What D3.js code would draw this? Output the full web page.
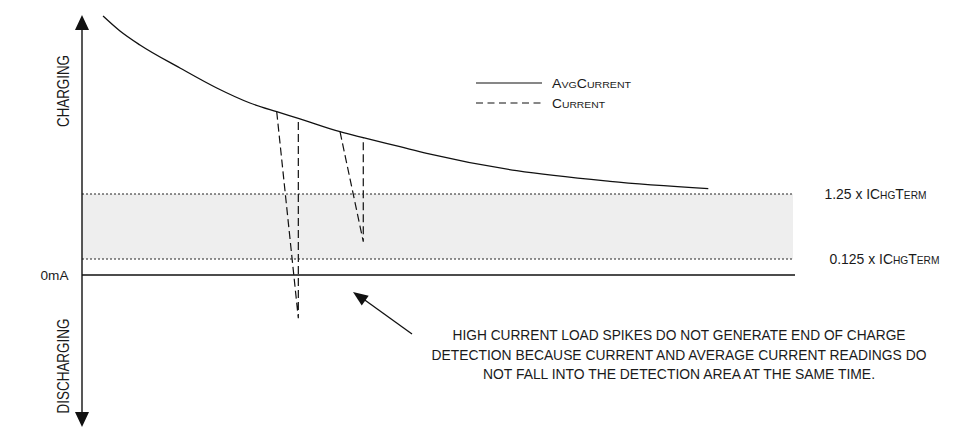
<!DOCTYPE html>
<html lang="en">
<head>
    <meta charset="UTF-8">
    <title>End of Charge Detection</title>
    <script src="https://d3js.org/d3.v7.min.js"></script>
    <style>
        body { margin: 0; background: #fff; font-family: "Liberation Sans", Arial, sans-serif; }
        svg { display: block; }
        text { fill: #1a1a1a; }
    </style>
</head>
<body>
    <svg width="972" height="434"></svg>
    <script>
        // time axis (arbitrary units) and current (arbitrary units, 0 = 0mA)
        const avgTime = [2.95, 5.33, 8.13, 13.74, 18.9, 23.56, 27.31, 30.34, 36.19, 39.45, 44.6, 48.35, 60.97, 74.05, 87.84];
        const avgCurrent = [259, 244, 230, 207, 187, 172, 163.3, 156.7, 143.3, 137.3, 128.3, 121.7, 104.3, 93.7, 86.3];

        // load spikes in the instantaneous current
        const spike1Time = [27.31, 30.34, 30.34];
        const spike1Current = [163.3, -43.3, 156.7];
        const spike2Time = [36.19, 39.45, 39.45];
        const spike2Current = [143.3, 33.3, 137.3];

        // detection band limits
        const bandValues = [81, 16];
        const bandLabels = [["1.25 x IC", "HG", "T", "ERM"], ["0.125 x IC", "HG", "T", "ERM"]];

        const legendLabels = [["A", "VG", "C", "URRENT"], ["C", "URRENT"]];
        const noteLines = [
            "HIGH CURRENT LOAD SPIKES DO NOT GENERATE END OF CHARGE",
            "DETECTION BECAUSE CURRENT AND AVERAGE CURRENT READINGS DO",
            "NOT FALL INTO THE DETECTION AREA AT THE SAME TIME."
        ];

        const svg = d3.select("svg");

        const x = d3.scaleLinear().domain([0, 100]).range([82, 795]);
        const y = d3.scaleLinear().domain([-150, 260]).range([425, 15]);

        // detection band
        svg.append("rect")
           .attr("x", x(0))
           .attr("y", y(bandValues[0]))
           .attr("width", x(100) - x(0) - 2)
           .attr("height", y(bandValues[1]) - y(bandValues[0]))
           .attr("fill", "#eeeeee");

        bandValues.forEach(v => {
            svg.append("line")
               .attr("x1", x(0)).attr("x2", x(100) - 2)
               .attr("y1", y(v)).attr("y2", y(v))
               .attr("stroke", "#222")
               .attr("stroke-width", 1)
               .attr("stroke-dasharray", "2,2");
        });

        // 0mA line
        svg.append("line")
           .attr("x1", x(0)).attr("x2", x(100))
           .attr("y1", y(0)).attr("y2", y(0))
           .attr("stroke", "#111")
           .attr("stroke-width", 1.3);

        // vertical axis with arrows at both ends
        const ax = x(0);
        svg.append("line")
           .attr("x1", ax).attr("x2", ax)
           .attr("y1", 28).attr("y2", 414)
           .attr("stroke", "#111")
           .attr("stroke-width", 1.4);
        svg.append("path")
           .attr("d", `M${ax},15 L${ax - 7},30 L${ax + 7},30 Z`)
           .attr("fill", "#111");
        svg.append("path")
           .attr("d", `M${ax},427 L${ax - 7},412 L${ax + 7},412 Z`)
           .attr("fill", "#111");

        svg.append("text")
           .attr("transform", "translate(68.5,91) rotate(-90)")
           .attr("text-anchor", "middle")
           .attr("font-size", 17)
           .attr("textLength", 72)
           .attr("lengthAdjust", "spacingAndGlyphs")
           .text("CHARGING");

        svg.append("text")
           .attr("transform", "translate(69,366) rotate(-90)")
           .attr("text-anchor", "middle")
           .attr("font-size", 17)
           .attr("textLength", 95)
           .attr("lengthAdjust", "spacingAndGlyphs")
           .text("DISCHARGING");

        svg.append("text")
           .attr("x", 68.5)
           .attr("y", y(0) + 5)
           .attr("text-anchor", "end")
           .attr("font-size", 13)
           .attr("textLength", 28)
           .attr("lengthAdjust", "spacingAndGlyphs")
           .text("0mA");

        // average current curve
        const avgData = avgTime.map((t, i) => [t, avgCurrent[i]]);
        const line = d3.line()
                       .x(d => x(d[0]))
                       .y(d => y(d[1]))
                       .curve(d3.curveMonotoneX);
        svg.append("path")
           .datum(avgData)
           .attr("d", line)
           .attr("fill", "none")
           .attr("stroke", "#111")
           .attr("stroke-width", 1.3);

        // current spikes (dashed)
        const spikeLine = d3.line().x(d => x(d[0])).y(d => y(d[1]));
        [[spike1Time, spike1Current], [spike2Time, spike2Current]].forEach(([ts, cs]) => {
            svg.append("path")
               .datum(ts.map((t, i) => [t, cs[i]]))
               .attr("d", spikeLine)
               .attr("fill", "none")
               .attr("stroke", "#111")
               .attr("stroke-width", 1.2)
               .attr("stroke-dasharray", "8,4");
        });

        // small caps: even parts full size, odd parts reduced
        function smallCaps(sel, parts, big, small) {
            parts.forEach((p, i) => {
                sel.append("tspan")
                   .attr("font-size", (i % 2 === 0) ? big : small)
                   .text(p);
            });
        }

        // band labels
        const bandLabelX = [824.5, 829.5];
        const bandLabelW = [102, 110];
        bandValues.forEach((v, i) => {
            const t = svg.append("text")
                         .attr("x", bandLabelX[i])
                         .attr("y", y(v) + 5)
                         .attr("textLength", bandLabelW[i])
                         .attr("lengthAdjust", "spacingAndGlyphs");
            smallCaps(t, bandLabels[i], 15, 11);
        });

        // legend
        const legendY = [83, 103];
        const legendW = [79, 53];
        legendY.forEach((ly, i) => {
            svg.append("line")
               .attr("x1", 476).attr("x2", 542)
               .attr("y1", ly).attr("y2", ly)
               .attr("stroke", "#111")
               .attr("stroke-width", 1.2)
               .attr("stroke-dasharray", i === 0 ? null : "7,4.5");
            const t = svg.append("text")
                         .attr("x", 552)
                         .attr("y", ly + 5)
                         .attr("textLength", legendW[i])
                         .attr("lengthAdjust", "spacingAndGlyphs");
            smallCaps(t, legendLabels[i], 12, 9);
        });

        // annotation arrow
        svg.append("line")
           .attr("x1", 412).attr("y1", 334)
           .attr("x2", 362).attr("y2", 298)
           .attr("stroke", "#111")
           .attr("stroke-width", 1.3);
        const ang = Math.atan2(334 - 292, 412 - 353);
        const tipX = 353, tipY = 292, len = 15, half = 6;
        const bx = tipX + len * Math.cos(ang), by = tipY + len * Math.sin(ang);
        svg.append("path")
           .attr("d", `M${tipX},${tipY} L${bx - half * Math.sin(ang)},${by + half * Math.cos(ang)} L${bx + half * Math.sin(ang)},${by - half * Math.cos(ang)} Z`)
           .attr("fill", "#111");

        // annotation note
        const noteW = [453, 495, 392];
        const noteBase = [340, 359.5, 379];
        noteLines.forEach((s, i) => {
            svg.append("text")
               .attr("x", 679)
               .attr("y", noteBase[i])
               .attr("text-anchor", "middle")
               .attr("font-size", 14)
               .attr("textLength", noteW[i])
               .attr("lengthAdjust", "spacingAndGlyphs")
               .text(s);
        });
    </script>
</body>
</html>
